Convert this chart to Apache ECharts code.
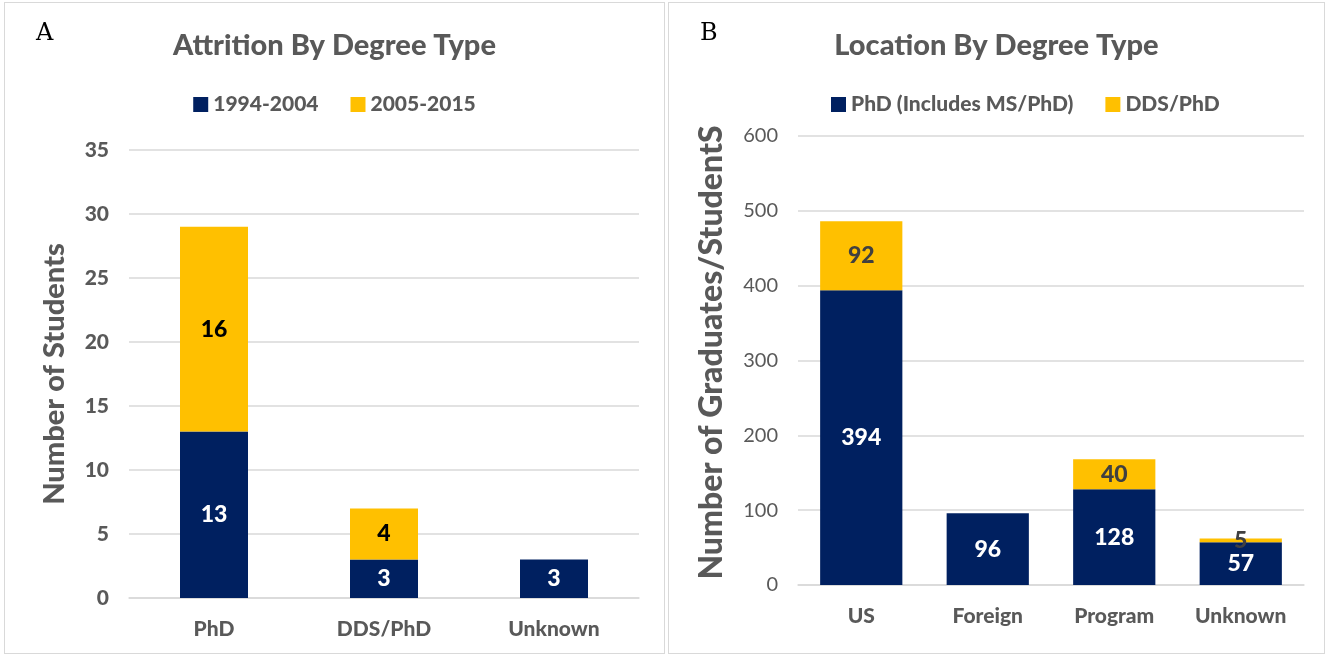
<!DOCTYPE html>
<html>
<head>
<meta charset="utf-8">
<script src="https://cdn.jsdelivr.net/npm/echarts@6/dist/echarts.min.js"></script>
<style>
  body { margin: 0; background: #fff; }
  .panel { position: absolute; top: 2px; height: 652px; border: 1px solid #d9d9d9; box-sizing: border-box; }
  #chartA { left: 4px; width: 661px; }
  #chartB { left: 668px; width: 657px; }
  .tag { position: absolute; top: 18px; font-family: "DejaVu Serif", serif; font-size: 24px; color: #000; }
</style>
</head>
<body>
<div id="chartA" class="panel"></div>
<div id="chartB" class="panel"></div>
<div class="tag" style="left:36px">A</div>
<div class="tag" style="left:700px">B</div>
<script>
const degreeCats = ['PhD', 'DDS/PhD', 'Unknown'];
const early = [13, 3, 3];
const late = [16, 4, 0];

const locationCats = ['US', 'Foreign', 'Program', 'Unknown'];
const phdCounts = [394, 96, 128, 57];
const ddsCounts = [92, 0, 40, 5];

const NAVY = '#002060';
const GOLD = '#ffc000';
const GRAY = '#595959';
const FONT = 'Lato, "Open Sans", sans-serif';

function hideZero(p) {
  return p.value ? p.value : '';
}

function buildOption(cfg) {
  return {
    animation: false,
    textStyle: { fontFamily: FONT },
    title: {
      text: cfg.title,
      left: 'center',
      top: 23,
      textStyle: { fontFamily: FONT, fontSize: 29, fontWeight: 900, color: GRAY }
    },
    legend: {
      top: 86,
      left: cfg.legendLeft,
      itemWidth: 15,
      itemHeight: 15,
      itemGap: 32,
      icon: 'rect',
      textStyle: { fontFamily: FONT, fontSize: 21, fontWeight: 900, color: GRAY }
    },
    grid: cfg.grid,
    xAxis: {
      type: 'category',
      data: cfg.cats,
      axisLine: { lineStyle: { color: '#d9d9d9', width: 1.5 } },
      axisTick: { show: false },
      axisLabel: { margin: 21, fontFamily: FONT, fontSize: 21, fontWeight: 900, color: GRAY }
    },
    yAxis: {
      type: 'value',
      min: 0,
      max: cfg.max,
      interval: cfg.step,
      name: cfg.yName,
      nameLocation: 'middle',
      nameGap: cfg.nameGap,
      nameTextStyle: { fontFamily: FONT, fontSize: cfg.nameSize, fontWeight: 900, color: GRAY, padding: cfg.namePad },
      axisLine: { show: false },
      axisTick: { show: false },
      axisLabel: { margin: 20, fontFamily: FONT, fontSize: cfg.tickSize, fontWeight: cfg.tickWeight, color: GRAY },
      splitLine: { lineStyle: { color: '#d9d9d9', width: 1.5 } }
    },
    series: [
      {
        name: cfg.names[0],
        type: 'bar',
        stack: 'total',
        barWidth: cfg.barWidth,
        data: cfg.a,
        itemStyle: { color: NAVY },
        label: { show: true, position: 'inside', formatter: hideZero, fontFamily: FONT, fontSize: 23, fontWeight: 900, color: '#fff' }
      },
      {
        name: cfg.names[1],
        type: 'bar',
        stack: 'total',
        barWidth: cfg.barWidth,
        data: cfg.b,
        itemStyle: { color: GOLD },
        label: { show: true, position: 'inside', formatter: hideZero, fontFamily: FONT, fontSize: 23, fontWeight: 900, color: cfg.goldLabel }
      }
    ]
  };
}

const chartA = echarts.init(document.getElementById('chartA'));
chartA.setOption(buildOption({
  title: 'Attrition By Degree Type',
  legendLeft: 'center',
  grid: { left: 124, right: 25, top: 147, bottom: 55 },
  cats: degreeCats,
  a: early,
  b: late,
  names: ['1994-2004', '2005-2015'],
  max: 35,
  step: 5,
  yName: 'Number of Students',
  nameGap: 60,
  nameSize: 29,
  namePad: 0,
  tickSize: 21,
  tickWeight: 900,
  barWidth: '40%',
  goldLabel: '#000'
}));

const chartB = echarts.init(document.getElementById('chartB'));
chartB.setOption(buildOption({
  title: 'Location By Degree Type',
  legendLeft: 157,
  grid: { left: 129, right: 20, top: 133, bottom: 68 },
  cats: locationCats,
  a: phdCounts,
  b: ddsCounts,
  names: ['PhD (Includes MS/PhD)', 'DDS/PhD'],
  max: 600,
  step: 100,
  yName: 'Number of Graduates/StudentS',
  nameGap: 70,
  nameSize: 32,
  namePad: [0, 0, 0, 16],
  tickSize: 20,
  tickWeight: 'normal',
  barWidth: '65%',
  goldLabel: '#404040'
}));

window.addEventListener('resize', () => {
  chartA.resize();
  chartB.resize();
});
</script>
</body>
</html>
